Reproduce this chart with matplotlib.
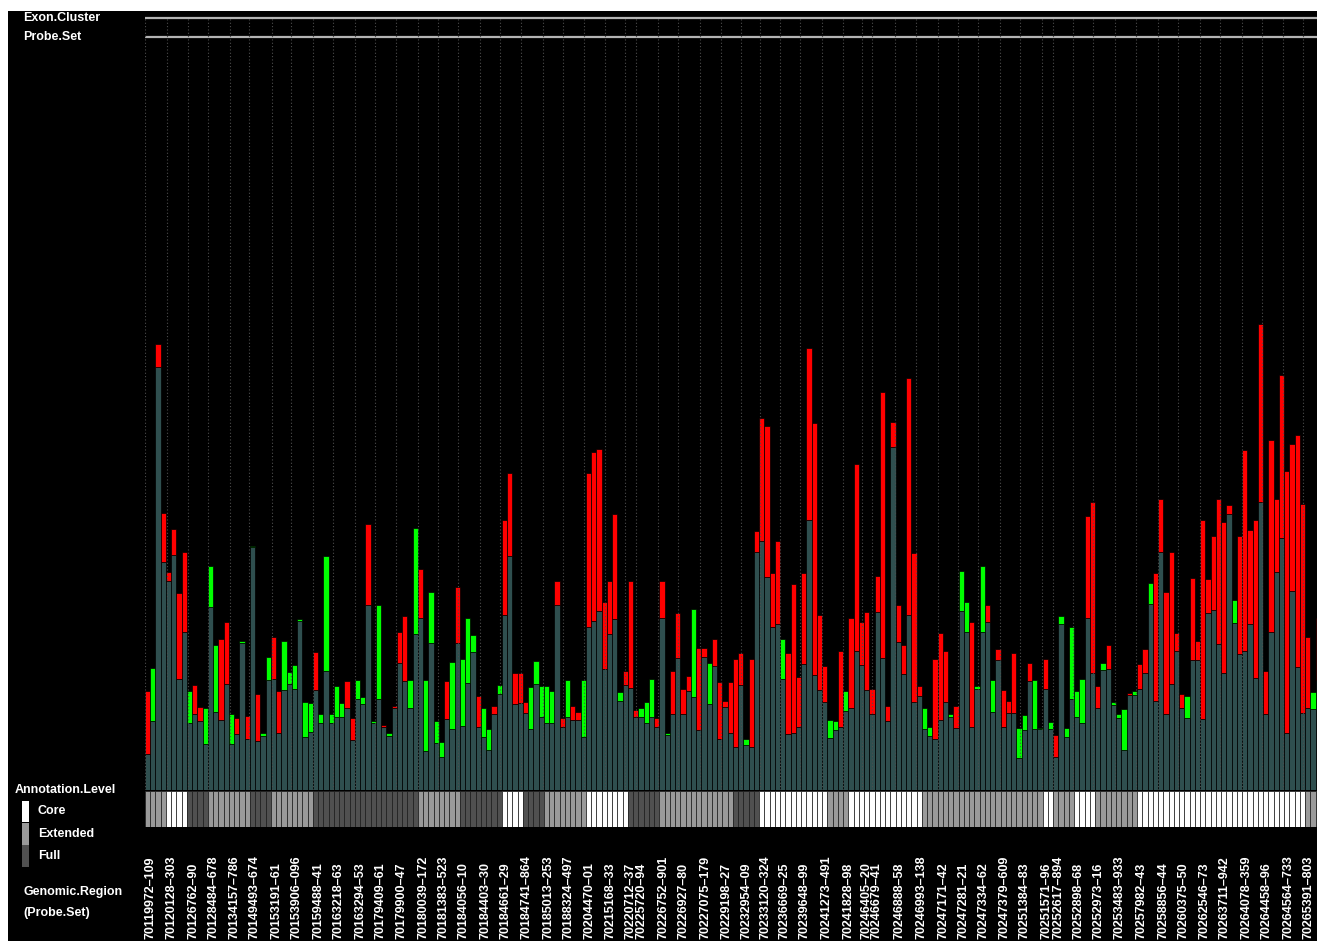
import matplotlib
matplotlib.use('Agg')
import matplotlib.pyplot as plt
from matplotlib import transforms
from matplotlib.patches import Rectangle

# expression per probe set: lower value (dark bar) and higher value (top of coloured part)
low_vals = [36, 69, 423, 228, 209, 235, 111, 158, 67, 76,
            69, 46, 183, 78, 70, 106, 46, 56, 147, 51,
            243, 49, 54, 110, 111, 57, 100, 106, 101, 169,
            53, 58, 100, 67, 119, 67, 73, 73, 82, 50,
            91, 86, 185, 67, 91, 63, 54, 82, 127, 109,
            82, 156, 172, 39, 147, 47, 33, 71, 61, 147,
            64, 107, 138, 63, 53, 40, 76, 96, 175, 234,
            86, 87, 77, 61, 106, 73, 67, 67, 185, 63,
            73, 70, 70, 53, 163, 169, 179, 121, 156, 171,
            89, 105, 102, 73, 73, 67, 73, 63, 172, 55,
            76, 132, 76, 99, 93, 60, 133, 86, 124, 51,
            83, 57, 43, 105, 45, 43, 238, 249, 213, 163,
            166, 111, 56, 57, 63, 126, 270, 115, 100, 88,
            52, 60, 63, 79, 82, 139, 125, 100, 76, 178,
            132, 69, 343, 148, 116, 175, 88, 94, 61, 54,
            51, 70, 88, 73, 62, 179, 158, 63, 101, 158,
            168, 78, 130, 63, 77, 77, 32, 60, 109, 61,
            61, 101, 61, 33, 166, 53, 91, 73, 67, 172,
            117, 82, 120, 121, 85, 72, 40, 95, 95, 101,
            117, 186, 89, 238, 76, 106, 139, 82, 72, 130,
            130, 71, 177, 180, 146, 117, 276, 167, 136, 139,
            166, 112, 288, 76, 158, 218, 252, 57, 199, 123,
            77, 82, 81, 110]

high_vals = [99, 122, 446, 277, 218, 261, 197, 238, 99, 105,
             83, 82, 224, 145, 151, 168, 76, 72, 149, 74,
             244, 96, 57, 133, 153, 99, 149, 118, 125, 171,
             88, 87, 138, 76, 234, 76, 104, 87, 109, 72,
             110, 93, 266, 69, 185, 65, 57, 84, 158, 174,
             110, 262, 221, 110, 198, 69, 48, 109, 128, 203,
             131, 172, 155, 94, 82, 61, 84, 105, 270, 317,
             117, 117, 88, 103, 129, 104, 104, 99, 209, 72,
             110, 84, 78, 110, 317, 338, 341, 188, 209, 276,
             98, 119, 209, 80, 82, 88, 111, 72, 209, 57,
             119, 177, 101, 114, 181, 142, 142, 127, 151, 108,
             89, 108, 131, 137, 51, 131, 259, 372, 364, 217,
             249, 151, 137, 206, 113, 217, 442, 367, 175, 124,
             70, 69, 139, 99, 172, 326, 168, 178, 101, 214,
             398, 84, 368, 185, 145, 412, 237, 104, 82, 63,
             131, 157, 139, 76, 84, 219, 188, 168, 104, 224,
             185, 110, 141, 100, 89, 137, 62, 75, 127, 110,
             62, 131, 68, 55, 174, 62, 163, 99, 111, 274,
             288, 104, 127, 145, 88, 76, 81, 97, 99, 126,
             141, 207, 217, 291, 198, 238, 157, 96, 94, 212,
             149, 270, 211, 254, 291, 268, 285, 190, 254, 340,
             260, 270, 466, 119, 350, 291, 415, 319, 346, 355,
             286, 153, 98, 172]

# r = higher in first group (red), g = higher in second group (green)
direction = ("rgrrrrrrgr" "rgggrrgrgr" "grggrrgggg" "ggrgggggrr" "ggrggrgrrr"
             "ggrggggrgr" "gggrggrgrr" "rrrgggggrr" "grrgrrrrrr" "grrrgggrrg"
             "rrrrgrrgrr" "rrrrgrrrrr" "rgrrrrrrrr" "ggrgrrrrrr" "rrrrrrrrgg"
             "rrrgrggrgg" "rgrrrrggrg" "grgrgggggr" "rrgrgggrgr" "rgrrrrrrgr"
             "rrrrrrrgrr" "rrrrrrrrrr" "rrgr")

# annotation level runs along the probe sets
annotation_runs = [('Extended', 4), ('Core', 4), ('Full', 4), ('Extended', 8),
                   ('Full', 4), ('Extended', 8), ('Full', 20), ('Extended', 8),
                   ('Full', 8), ('Core', 4), ('Full', 4), ('Extended', 8),
                   ('Core', 8), ('Full', 6), ('Extended', 14), ('Full', 5),
                   ('Core', 13), ('Extended', 4), ('Core', 14), ('Extended', 23),
                   ('Core', 2), ('Extended', 4), ('Core', 4), ('Extended', 8),
                   ('Core', 32), ('Extended', 3)]

region_labels = ['70119972–109', '70120128–303', '70126762–90', '70128484–678',
                 '70134157–786', '70149493–674', '70153191–61', '70153906–096',
                 '70159488–41', '70163218–63', '70163294–53', '70179409–61',
                 '70179900–47', '70180039–172', '70181383–523', '70184056–10',
                 '70184403–30', '70184661–29', '70184741–864', '70185013–253',
                 '70188324–497', '70204470–01', '70215168–33', '70220712–37',
                 '70225720–94', '70226752–901', '70226927–80', '70227075–179',
                 '70229198–27', '70232954–09', '70233120–324', '70236669–25',
                 '70239648–99', '70241273–491', '70241828–98', '70246405–20',
                 '70246679–41', '70246888–58', '70246993–138', '70247171–42',
                 '70247281–21', '70247334–62', '70247379–609', '70251384–83',
                 '70251571–96', '70252617–894', '70252898–68', '70252973–16',
                 '70253483–933', '70257982–43', '70258856–44', '70260375–50',
                 '70262546–73', '70263711–942', '70264078–359', '70264458–96',
                 '70264564–733', '70265391–803']

# start of each genomic region, in probe-set units
region_start = [-0.5, 3.6, 7.7, 11.5, 15.6, 19.4, 23.6, 27.4, 31.5, 35.3,
                39.5, 43.3, 47.4, 51.5, 55.3, 59.1, 63.3, 67.1, 71.2, 75.3,
                79.1, 83.1, 87.1, 90.9, 93.1, 97.2, 101.0, 105.2, 109.2, 113.1,
                116.6, 120.4, 124.2, 128.4, 132.5, 136.0, 137.9, 142.3, 146.4, 150.6,
                154.4, 158.2, 162.3, 166.1, 170.3, 172.5, 176.3, 180.1, 184.2, 188.3,
                192.5, 196.3, 200.4, 204.2, 208.4, 212.2, 216.3, 220.1]

level_colors = {'Core': '#ffffff', 'Extended': '#9a9a9a', 'Full': '#505050'}
W, H = 1317, 941

fig = plt.figure(figsize=(W / 100, H / 100), dpi=100, facecolor='white')
fig.add_artist(Rectangle((8 / W, 0), 1, 1 - 11 / H, transform=fig.transFigure,
                         facecolor='black', edgecolor='none', zorder=-10))

n = len(low_vals)
xs = list(range(n))
left = 145 / W
width = 1172 / W

ax = fig.add_axes([left, (H - 790) / H, width, (790 - 11) / H])
ax.set_facecolor('black')
seg_col = ['#ff0000' if d == 'r' else '#00ff00' for d in direction]
diff = [h - l for h, l in zip(high_vals, low_vals)]
ax.bar(xs, low_vals, width=1.0, color='#2f4f4f', edgecolor='black', linewidth=0.5, zorder=2)
ax.bar(xs, diff, bottom=low_vals, width=1.0, color=seg_col, edgecolor='black',
       linewidth=0.5, zorder=2)

# track lines at the top
ax.axhline(772, color='#b4b4b4', lw=1.6, zorder=3)
ax.axhline(753, color='#b4b4b4', lw=1.6, zorder=3)
ax.vlines(region_start, 0, 772, colors='#4d4d4d', linestyles=(0, (1, 2)), lw=0.8, zorder=4)

ax.set_xlim(-0.5, 222.74)
ax.set_ylim(0, 779)
ax.axis('off')

# annotation level strip
ann = []
for level, count in annotation_runs:
    ann += [level] * count
ax2 = fig.add_axes([left, (H - 827) / H, width, 36 / H])
ax2.set_facecolor('black')
ax2.bar(xs, [1] * n, width=1.0, color=[level_colors[a] for a in ann],
        edgecolor='#202020', linewidth=0.5)
ax2.set_xlim(-0.5, 222.74)
ax2.set_ylim(0, 1)
ax2.axis('off')

# region labels along the bottom
trans = transforms.blended_transform_factory(ax.transData, fig.transFigure)
for pos, lab in zip(region_start, region_labels):
    ax.text(pos + 1.0, 2 / H, lab, transform=trans, rotation=90, ha='center',
            va='bottom', color='white', fontsize=9, fontweight='bold',
            family='Liberation Sans', clip_on=False)

font = dict(color='white', fontsize=9, fontweight='bold', family='Liberation Sans', va='center')
fig.text(23 / W, 1 - 18 / H, 'Exon.Cluster', **font)
fig.text(23 / W, 1 - 37 / H, 'Probe.Set', **font)
fig.text(15 / W, 1 - 790 / H, 'Annotation.Level', **font)
fig.text(23 / W, 1 - 892 / H, 'Genomic.Region', **font)
fig.text(23 / W, 1 - 913 / H, '(Probe.Set)', **font)

legend_items = [('Core', 801, 822), ('Extended', 823, 845), ('Full', 845, 867)]
for name, y0, y1 in legend_items:
    fig.add_artist(Rectangle((22 / W, 1 - y1 / H), 7 / W, (y1 - y0) / H,
                             transform=fig.transFigure, facecolor=level_colors[name],
                             edgecolor='none'))
    fig.text(38 / W, 1 - (y0 + y1) / 2 / H, name, **font)

fig.savefig('out.png', dpi=100, facecolor=fig.get_facecolor())
